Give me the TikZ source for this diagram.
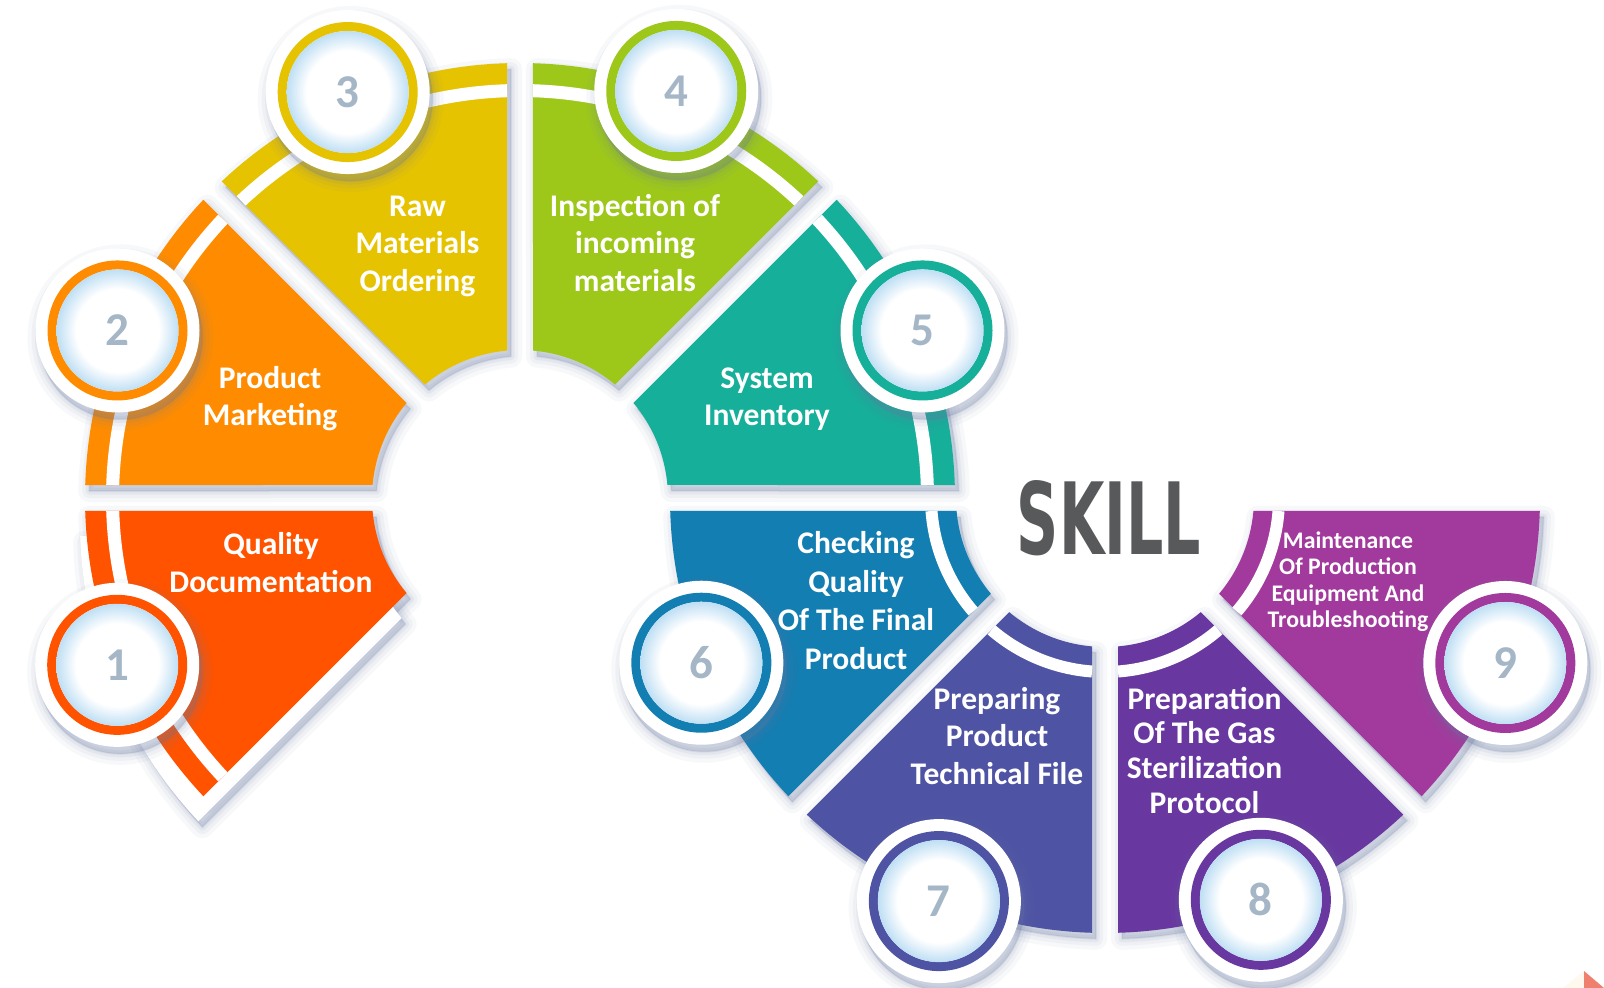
\documentclass[tikz,border=0pt]{standalone}
\usepackage{fontspec}
\setmainfont{Carlito}
\newfontfamily\skillfont{DejaVu Sans}
\usepackage{graphicx}
\usetikzlibrary{calc}

\definecolor{segA}{HTML}{FF5300}
\definecolor{segB}{HTML}{FF8C00}
\definecolor{segC}{HTML}{E6C300}
\definecolor{segD}{HTML}{9DC81A}
\definecolor{segE}{HTML}{15AF9A}
\definecolor{segF}{HTML}{137EB1}
\definecolor{segG}{HTML}{4E53A3}
\definecolor{segH}{HTML}{6837A0}
\definecolor{segI}{HTML}{A2399C}
\definecolor{numgray}{HTML}{A5B6C7}
\definecolor{skillgray}{HTML}{58595B}
\definecolor{shadowtone}{HTML}{6A7AA4}
\definecolor{rim}{HTML}{BFDFF4}
\definecolor{salmon}{HTML}{F0806E}
\definecolor{cream}{HTML}{FFF8EE}

% glassy inner disc of the number badges
\pgfdeclareradialshading{glass}{\pgfpoint{0bp}{0bp}}{color(0bp)=(white); color(17bp)=(white); color(25bp)=(rim); color(50bp)=(rim)}

% ring sector between two angles, with a 13pt half gap to its neighbours
\newcommand\sectorpath[4]{({#1+asin(13/#4)}:#4) arc[start angle={#1+asin(13/#4)}, end angle={#2-asin(13/#4)}, radius=#4] -- ({#2-asin(13/#3)}:#3) arc[start angle={#2-asin(13/#3)}, end angle={#1+asin(13/#3)}, radius=#3] -- cycle}

% soft drop shadow built from stacked translucent strokes
\newcommand\softshadow[2]{%
  \begin{scope}[shift={#1}]
    \foreach \lw/\op in {22/0.05,14/0.06,7/0.08,2/0.10}{%
      \filldraw[shadowtone, opacity=\op, line width=\lw pt, line join=round] #2;}
  \end{scope}}

% white guide stripe running along a sector
\newcommand\guidestripe[4]{%
  \draw[white, line width=#4 pt] ({#1+asin(13/#3)}:#3) arc[start angle={#1+asin(13/#3)}, end angle={#2-asin(13/#3)}, radius=#3];}

% numbered badge: white disc, coloured ring, glassy centre
\newcommand\badge[4]{%
  \begin{scope}[shift={#1}]
    \softshadow{(3,-7)}{(0,0) circle[radius=82]}
    \fill[white] (0,0) circle[radius=82];
    \draw[#2, line width=9pt] (0,0) circle[radius=65.5];
    \shade[shading=glass] (0,0) circle[radius=61];
    \node[numtext] (#4) at (0,0) {#3};
  \end{scope}}

\newcommand\lstrut{\rule[-0.3em]{0pt}{1.1em}}

\begin{document}
\begin{tikzpicture}[x=1pt, y=1pt,
  seglabel/.style={text=white, align=center, inner sep=0pt, font=\bfseries\fontsize{31.5}{37.8}\selectfont},
  numtext/.style={text=numgray, inner sep=0pt, font=\bfseries\fontsize{47}{47}\selectfont}]
\useasboundingbox (0,0) rectangle (1604,988);
\fill[white] (0,0) rectangle (1604,988);

% ---- shadows of all sectors
\begin{scope}[shift={(520,490)}]
  \softshadow{(-1,-31)}{\sectorpath{180}{225}{148}{435}}
  \foreach \a/\b in {180/225,135/180,90/135,45/90,0/45}{
    \softshadow{(4,-6)}{\sectorpath{\a}{\b}{148}{435}}
  }
\end{scope}
\begin{scope}[shift={(1105,490)}]
  \foreach \a/\b in {180/225,225/270,270/315,315/360}{
    \softshadow{(4,-6)}{\sectorpath{\a}{\b}{149}{435}}
  }
\end{scope}

% ---- left half ring
\begin{scope}[shift={(520,490)}]
  \fill[white, shift={(-5,-25)}] \sectorpath{180}{225}{148}{435};
  \foreach \a/\b/\c in {180/225/segA,135/180/segB,90/135/segC,45/90/segD,0/45/segE}{
    \fill[\c] \sectorpath{\a}{\b}{148}{435};
    \guidestripe{\a}{\b}{407.5}{13}
  }
\end{scope}

% ---- right half ring
\begin{scope}[shift={(1105,490)}]
  \foreach \a/\b/\c in {180/225/segF,225/270/segG,270/315/segH,315/360/segI}{
    \fill[\c] \sectorpath{\a}{\b}{149}{435};
    \guidestripe{\a}{\b}{174}{12}
  }
\end{scope}

% ---- numbered badges
\badge{($(520,490)+(202.5:436)$)}{segA}{1}{n1}
\badge{($(520,490)+(157.4:436)$)}{segB}{2}{n2}
\badge{($(520,490)+(113:441)$)}{segC}{3}{n3}
\badge{($(520,490)+(69:436)$)}{segD}{4}{n4}
\badge{($(520,490)+(22.6:436)$)}{segE}{5}{n5}
\badge{($(1105,490)+(202.2:436)$)}{segF}{6}{n6}
\badge{($(1105,490)+(247.6:436)$)}{segG}{7}{n7}
\badge{($(1105,490)+(291.2:431)$)}{segH}{8}{n8}
\badge{($(1105,490)+(337.6:433)$)}{segI}{9}{n9}

% ---- sector captions
\node[seglabel] (t1) at (271,422.3) {\lstrut Quality\\\lstrut Documentation};
\node[seglabel] (t2) at (270,588.9) {\lstrut Product\\\lstrut Marketing};
\node[seglabel] (t3) at (417.5,741.9) {\lstrut Raw\\\lstrut Materials\\\lstrut Ordering};
\node[seglabel] (t4) at (635,741.9) {\lstrut Inspection of\\\lstrut incoming\\\lstrut materials};
\node[seglabel] (t5) at (767,588.9) {\lstrut System\\\lstrut Inventory};
\node[seglabel, font=\bfseries\fontsize{31.5}{38.5}\selectfont] (t6) at (856,384.4) {\lstrut Checking\\\lstrut Quality\\\lstrut Of The Final\\\lstrut Product};
\node[seglabel] (t7) at (997,248.9) {\lstrut Preparing\\\lstrut Product\\\lstrut Technical File};
\node[seglabel, font=\bfseries\fontsize{31.5}{34.8}\selectfont] (t8) at (1204.5,234.6) {\lstrut Preparation\\\lstrut Of The Gas\\\lstrut Sterilization\\\lstrut Protocol};
\node[seglabel, font=\bfseries\fontsize{23.8}{26.6}\selectfont] (t9) at (1348,406) {\lstrut Maintenance\\\lstrut Of Production\\\lstrut Equipment And\\\lstrut Troubleshooting};

% ---- title in the right ring
\node[inner sep=0pt, text=skillgray] (skill) at (1109,470) {\resizebox{184pt}{74pt}{\skillfont\bfseries SKILL}};

% ---- corner fold
\fill[cream] (1563,0) -- (1584,17) -- (1584,0) -- cycle;
\fill[salmon] (1584,17) -- (1584,0) -- (1604,0) -- cycle;
\end{tikzpicture}
\end{document}
